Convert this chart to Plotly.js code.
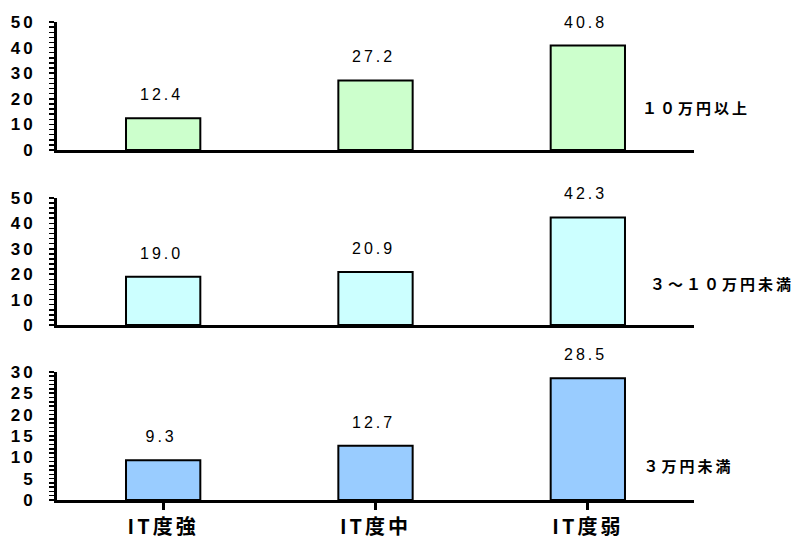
<!DOCTYPE html>
<html><head><meta charset="utf-8">
<script src="https://cdn.plot.ly/plotly-3.0.1.min.js"></script>
<style>html,body{margin:0;padding:0;background:#fff}#chart{width:797px;height:542px}
#chart text{letter-spacing:3px}</style>
</head><body><div id="chart"></div>
<script>
const categories = ["IT度強", "IT度中", "IT度弱"];
const groupLabels = ["１０万円以上", "３～１０万円未満", "３万円未満"];
const valuesHigh = [12.4, 27.2, 40.8];
const valuesMid = [19.0, 20.9, 42.3];
const valuesLow = [9.3, 12.7, 28.5];
const yMax = [50, 50, 30];
const yTickVals50 = [0,2,4,6,8,10,12,14,16,18,20,22,24,26,28,30,32,34,36,38,40,42,44,46,48,50];
const yTickText50 = ["0","","","","","10","","","","","20","","","","","30","","","","","40","","","","","50"];
const yTickVals30 = [0,1,2,3,4,5,6,7,8,9,10,11,12,13,14,15,16,17,18,19,20,21,22,23,24,25,26,27,28,29,30];
const yTickText30 = ["0","","","","","5","","","","","10","","","","","15","","","","","20","","","","","25","","","","","30"];

const series = [valuesHigh, valuesMid, valuesLow];
const tickVals = [yTickVals50, yTickVals50, yTickVals30];
const tickText = [yTickText50, yTickText50, yTickText30];
const colors = ["#CCFFCC", "#CCFFFF", "#99CCFF"];
const domains = [[0.732, 1], [0.366, 0.632], [0, 0.268]];
const labelY = [0.33, 0.33, 0.27];
const labelX = [0.929, 0.946, 0.929];

const traces = [];
const annotations = [];
const layout = {
  width: 797, height: 542,
  margin: {l: 57, r: 103, t: 22, b: 42},
  paper_bgcolor: "#fff", plot_bgcolor: "#fff",
  showlegend: false,
  font: {family: "Liberation Sans, Arial, sans-serif", color: "#000"}
};

series.forEach((vals, i) => {
  const n = i + 1;
  const xa = n === 1 ? "x" : "x" + n;
  const ya = n === 1 ? "y" : "y" + n;
  traces.push({
    type: "bar", x: categories, y: vals, xaxis: xa, yaxis: ya,
    width: 0.35,
    marker: {color: colors[i], line: {color: "#000", width: 2}},
    hoverinfo: "none"
  });
  vals.forEach((v, j) => {
    annotations.push({
      xref: xa, yref: ya, x: categories[j], y: v,
      text: v.toFixed(1), showarrow: false, yanchor: "bottom", yshift: 13, xshift: -2,
      font: {size: 16, family: "Liberation Sans, Arial, sans-serif", color: "#000"}
    });
  });
  annotations.push({
    xref: "paper", yref: ya + " domain", x: labelX[i], y: labelY[i],
    text: groupLabels[i], showarrow: false, xanchor: "left", yanchor: "middle",
    font: {size: 15, family: "Noto Sans CJK JP, sans-serif", color: "#000", weight: "bold"}
  });
  const isBottom = n === 3;
  layout["xaxis" + (n === 1 ? "" : n)] = {
    domain: [0, 1], anchor: ya, range: [-0.5, 2.5],
    showline: true, linecolor: "#000", linewidth: 3,
    showgrid: false, zeroline: false,
    showticklabels: isBottom,
    ticks: isBottom ? "outside" : "", ticklen: 7, tickwidth: 3, tickcolor: "#000",
    tickfont: {size: 20, family: "Noto Sans CJK JP, sans-serif", color: "#000", weight: "bold"},
    fixedrange: true
  };
  layout["yaxis" + (n === 1 ? "" : n)] = {
    domain: domains[i], anchor: xa, range: [0, yMax[i]],
    tickmode: "array", tickvals: tickVals[i], ticktext: tickText[i],
    showline: true, linecolor: "#000", linewidth: 3,
    showgrid: false, zeroline: false,
    ticks: "outside", ticklen: 5, tickwidth: 1.5, tickcolor: "#000",
    ticklabelstandoff: 10,
    tickfont: {size: 17, family: "Liberation Sans, Arial, sans-serif", color: "#000", weight: "bold"},
    fixedrange: true
  };
});
layout.annotations = annotations;
Plotly.newPlot("chart", traces, layout, {displayModeBar: false, staticPlot: true});
</script></body></html>
